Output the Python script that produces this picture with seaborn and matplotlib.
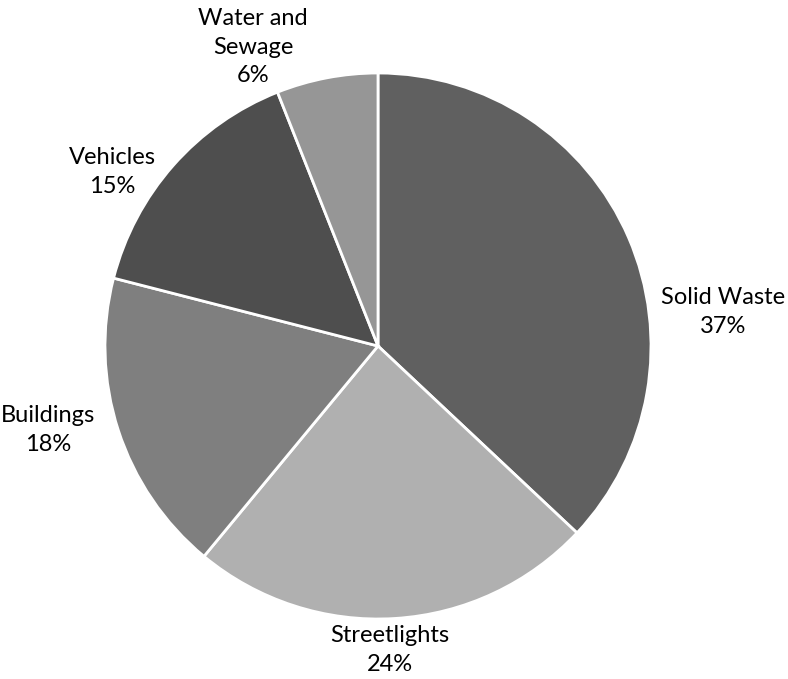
import matplotlib
matplotlib.use("Agg")
import matplotlib.pyplot as plt
import seaborn as sns

categories = ["Solid Waste", "Streetlights", "Buildings", "Vehicles", "Water and\nSewage"]
shares = [37, 24, 18, 15, 6]
colors = ["#606060", "#b0b0b0", "#7f7f7f", "#4e4e4e", "#969696"]

sns.set_theme(style="white")
plt.rcParams["font.family"] = ["Lato", "DejaVu Sans"]

W, H = 788, 679
fig = plt.figure(figsize=(W / 100, H / 100), dpi=100)
ax = fig.add_axes([0, 0, 1, 1])

cx, cy, r = 378, H - 346, 273
ax.pie(shares, colors=colors, startangle=90, counterclock=False,
       center=(cx, cy), radius=r, frame=True,
       wedgeprops=dict(edgecolor="white", linewidth=2))
ax.set_xlim(0, W)
ax.set_ylim(0, H)
ax.set_aspect("equal")
ax.axis("off")

# label anchor points (pixel coordinates, top-left origin)
label_pos = [(723, 312), (390, 650), (48, 430), (112, 172), (253, 47)]
for name, val, (lx, ly) in zip(categories, shares, label_pos):
    ax.text(lx, H - ly, f"{name}\n{val}%", ha="center", va="center",
            fontsize=17, color="#000000", linespacing=1.45)

fig.savefig("out.png", dpi=100, facecolor="white")
